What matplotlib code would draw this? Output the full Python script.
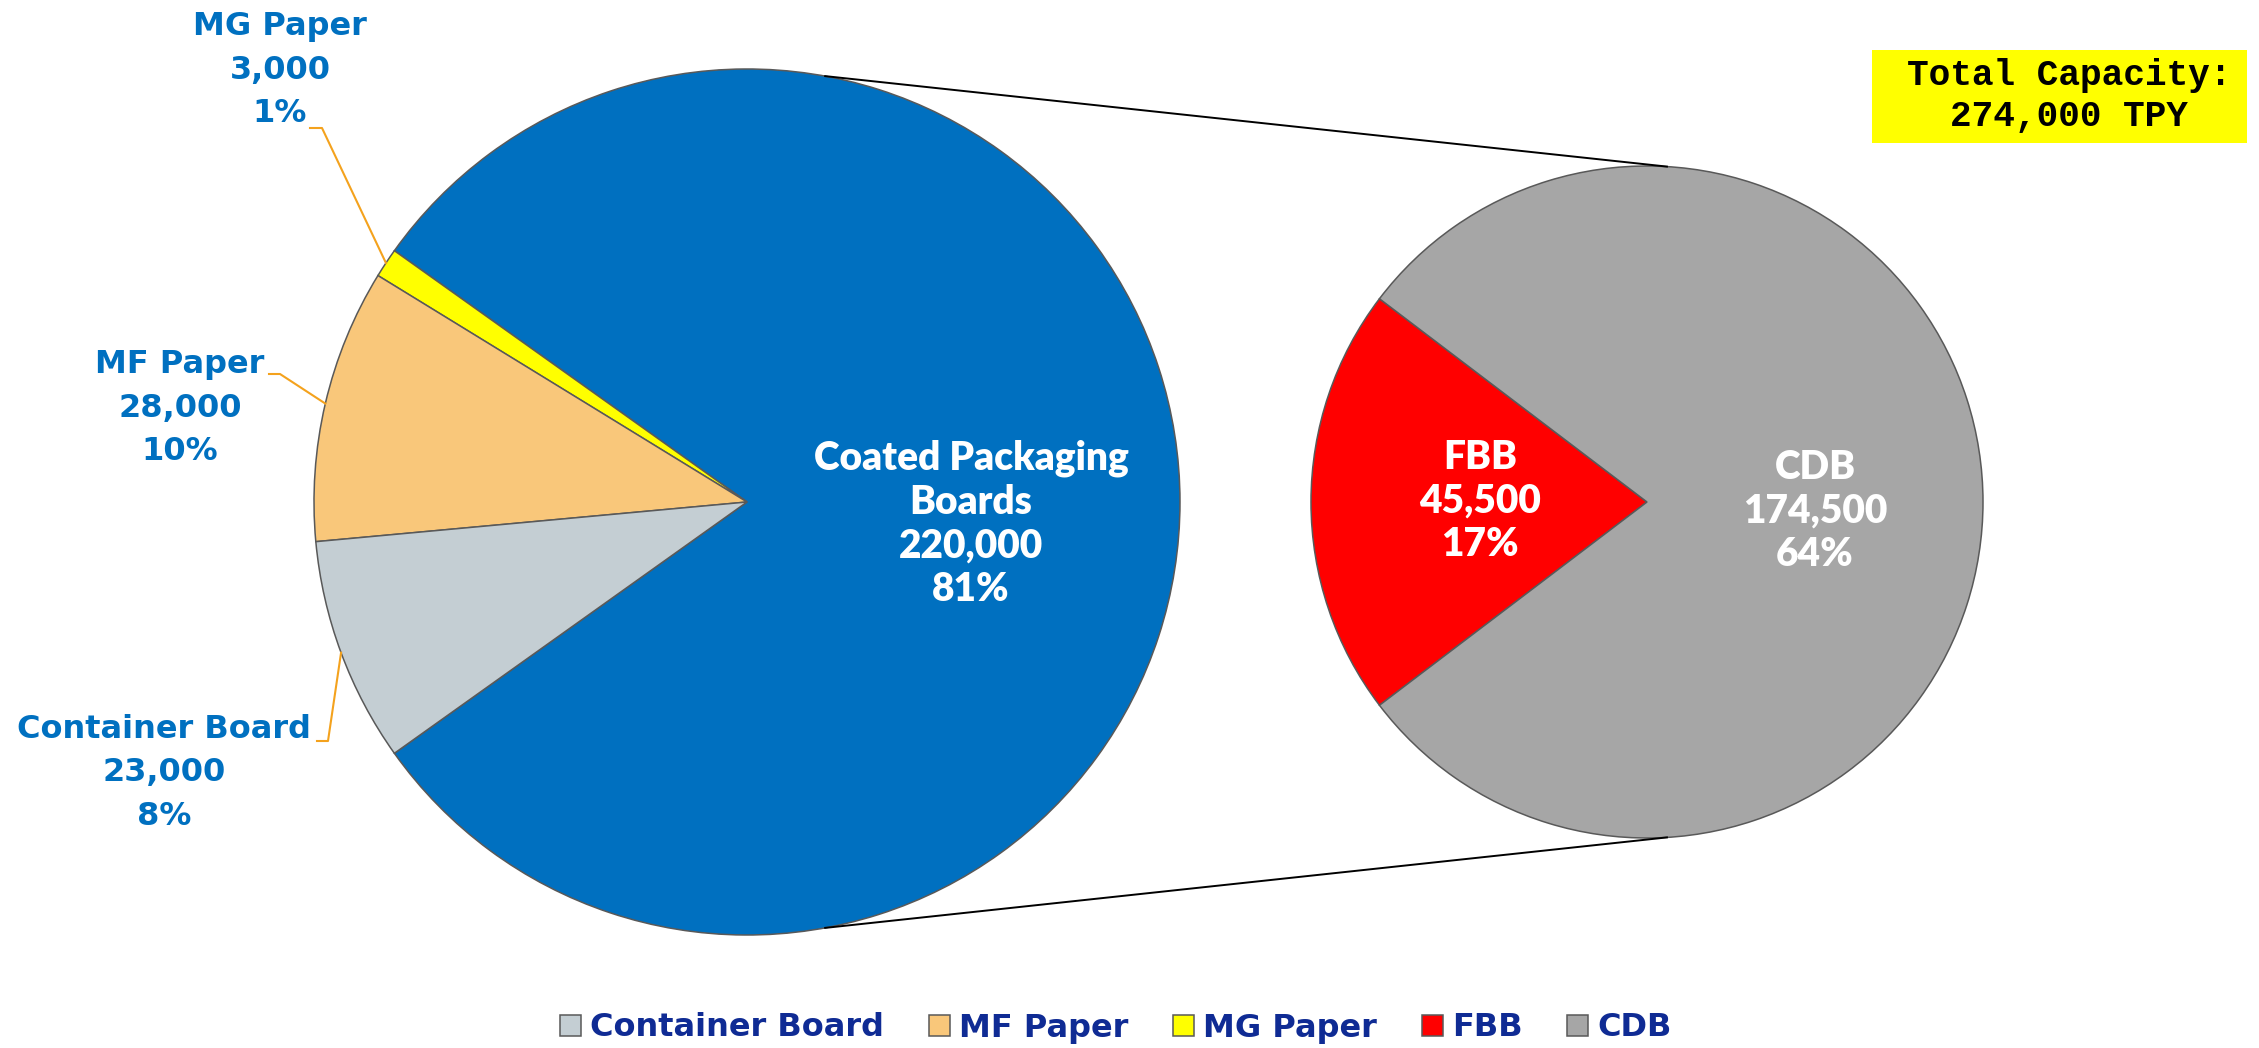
import matplotlib.pyplot as plt
from matplotlib.patches import Rectangle
import numpy as np

# Datos del gráfico
left_names = ["Coated Packaging\nBoards", "MG Paper", "MF Paper", "Container Board"]
left_values = [220000, 3000, 28000, 23000]
left_pcts = ["81%", "1%", "10%", "8%"]
left_colors = ["#0070C0", "#FFFF00", "#F9C77A", "#C4CED3"]

right_names = ["FBB", "CDB"]
right_values = [45500, 174500]
right_pcts = ["17%", "64%"]
right_colors = ["#FF0000", "#A6A6A6"]

legend_names = ["Container Board", "MF Paper", "MG Paper", "FBB", "CDB"]
total_text = "Total Capacity:\n274,000 TPY"

# Lienzo en píxeles (y hacia arriba)
W, H = 2259, 1048
def py(y):
    return H - y

fig = plt.figure(figsize=(W / 100, H / 100), dpi=100)
ax = fig.add_axes([0, 0, 1, 1])

edge = dict(edgecolor="#595959", linewidth=1.1)

# Pastel principal
cL, rL = (747, py(502)), 433
startL = -left_values[0] / sum(left_values) * 180
wedgesL, _ = ax.pie(left_values, center=cL, radius=rL, startangle=startL,
                    colors=left_colors, wedgeprops=edge)

# Pastel secundario (desglose de Coated Packaging Boards)
cR, rR = (1647, py(502)), 336
startR = 180 - right_values[0] / sum(right_values) * 180
wedgesR, _ = ax.pie(right_values, center=cR, radius=rR, startangle=startR,
                    colors=right_colors, wedgeprops=edge)

# Líneas de conexión entre pasteles
for sgn in (1, -1):
    a1 = np.deg2rad(79.6 * sgn)
    a2 = np.deg2rad(86.6 * sgn)
    ax.plot([cL[0] + rL * np.cos(a1), cR[0] + rR * np.cos(a2)],
            [cL[1] + rL * np.sin(a1), cR[1] + rR * np.sin(a2)],
            color="black", linewidth=1.4)

# Etiquetas blancas dentro de los pasteles
white_font = dict(family="Lato", weight="heavy", size=28, color="white",
                  ha="center", va="center", linespacing=1.22)
ax.text(971, py(524), f"{left_names[0]}\n{left_values[0]:,}\n{left_pcts[0]}", **white_font)
white_pos = [(1480, 501), (1815, 511)]
for name, val, pct, (x, y) in zip(right_names, right_values, right_pcts, white_pos):
    ax.text(x, py(y), f"{name}\n{val:,}\n{pct}", **white_font)

# Etiquetas azules externas con líneas guía
blue_font = dict(family="DejaVu Sans", weight="bold", size=23, color="#0070C0",
                 ha="center", va="center", linespacing=1.52)
blue_pos = [(280, 70), (180, 408), (164, 773)]
elbows = [[(310, 128), (322, 128)], [(269, 374), (280, 374)], [(317, 741), (328, 741)]]
for i, (x, y), elb in zip(range(1, 4), blue_pos, elbows):
    ax.text(x, py(y), f"{left_names[i]}\n{left_values[i]:,}\n{left_pcts[i]}", **blue_font)
    w = wedgesL[i]
    mid = np.deg2rad((w.theta1 + w.theta2) / 2)
    xs = [p[0] for p in elb] + [cL[0] + rL * np.cos(mid)]
    ys = [py(p[1]) for p in elb] + [cL[1] + rL * np.sin(mid)]
    ax.plot(xs, ys, color="#F4A21D", linewidth=1.5)

# Caja de capacidad total
ax.add_patch(Rectangle((1872, py(143)), 375, 93, facecolor="#FFFF00", edgecolor="none"))
ax.text(2069, py(96), total_text, family="Liberation Mono", weight="bold", size=26,
        ha="center", va="center", linespacing=1.2)

ax.set_xlim(0, W)
ax.set_ylim(0, H)
ax.axis("off")

# Leyenda
handles = [wedgesL[3], wedgesL[2], wedgesL[1], wedgesR[0], wedgesR[1]]
fig.legend(handles, legend_names, loc="center", bbox_to_anchor=(1116 / W, 20 / H),
           ncol=5, frameon=False, prop=dict(family="DejaVu Sans", weight="bold", size=23),
           labelcolor="#0F2B94", handlelength=0.66, handleheight=0.66,
           handletextpad=0.28, columnspacing=1.4, borderpad=0)

plt.savefig("out.png", dpi=100)
plt.close()
